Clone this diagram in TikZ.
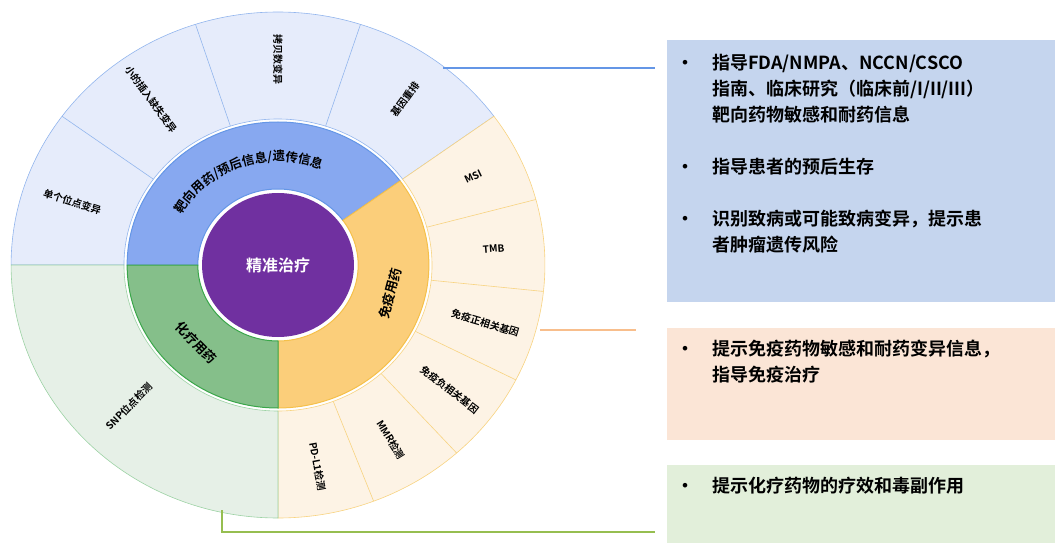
\documentclass[tikz,border=0pt]{standalone}
\usepackage{fontspec}
\setmainfont{Noto Sans CJK SC}[BoldFont={Noto Sans CJK SC Bold}]
\usetikzlibrary{decorations.text}
\definecolor{bluemid}{RGB}{135,168,240}
\definecolor{blueout}{RGB}{230,236,251}
\definecolor{blueline}{RGB}{100,150,230}
\definecolor{orgmid}{RGB}{251,206,122}
\definecolor{orgout}{RGB}{253,243,229}
\definecolor{orgline}{RGB}{245,192,74}
\definecolor{grnmid}{RGB}{133,191,138}
\definecolor{grnout}{RGB}{230,240,231}
\definecolor{grnline}{RGB}{58,166,74}
\definecolor{purp}{RGB}{112,48,160}
\definecolor{boxblue}{RGB}{197,213,238}
\definecolor{boxorg}{RGB}{251,229,214}
\definecolor{boxgrn}{RGB}{226,239,218}
\definecolor{linkorg}{RGB}{248,190,140}
\definecolor{linkgrn}{RGB}{150,190,80}
\tikzset{
  seglabel/.style={font=\bfseries\fontsize{10}{11}\selectfont},
  midlabel/.style={font=\bfseries\fontsize{13}{14}\selectfont},
  infobox/.style={draw=none,minimum width=388pt,anchor=north west,inner sep=0pt},
  infotext/.style={anchor=north west,inner sep=0pt,align=left,font=\bfseries\fontsize{18}{26}\selectfont}
}
\newcommand{\ringseg}[5]{% style, a1, a2, r1, r2
  \filldraw[#1] (#2:#4) -- (#2:#5) arc[start angle=#2,end angle=#3,radius=#5]
    -- (#3:#4) arc[start angle=#3,end angle=#2,radius=#4] -- cycle;}

\begin{document}
\begin{tikzpicture}[x=1pt,y=1pt]
  \useasboundingbox (0,0) rectangle (1061,550);
  \begin{scope}[shift={(278,285)},xscale=1.055]
    % outer ring
    \ringseg{fill=blueout,draw=blueline!70,line width=0.6pt}{180}{36}{146}{253}
    \ringseg{fill=orgout,draw=orgline!70,line width=0.6pt}{36}{-90}{146}{253}
    \ringseg{fill=grnout,draw=grnline!50,line width=0.6pt}{-90}{-180}{146}{253}
    \foreach \a in {144,108,72}
      \draw[blueline!70,line width=0.6pt] (\a:146) -- (\a:253);
    \foreach \a in {15,-6,-27,-48,-69}
      \draw[orgline!70,line width=0.6pt] (\a:146) -- (\a:253);
    % middle ring
    \ringseg{fill=bluemid,draw=blueline,line width=1pt}{180}{36}{76}{143}
    \ringseg{fill=orgmid,draw=orgline,line width=1pt}{36}{-90}{76}{143}
    \ringseg{fill=grnmid,draw=grnline,line width=1pt}{-90}{-180}{76}{143}
    % centre
    \fill[purp] (0,0) circle[radius=72];
    \node[font=\bfseries\fontsize{16}{17}\selectfont,text=white] (core) at (0,0) {精准治疗};
    % middle labels
    \path[decorate,decoration={text along path,text align=center,
      text format delimiters={|}{|},
      text={|\bfseries\fontsize{12.5}{13}\selectfont|靶向用药/预后信息/遗传信息}}]
      (158:104) arc[start angle=158,end angle=60,radius=104];
    \node[midlabel,rotate=75] (immu) at (-15:110) {免疫用药};
    \node[midlabel,rotate=-45] (chemo) at (-135:110) {化疗用药};
    % outer labels
    \foreach \a/\txt in {162/单个位点变异,126/小的插入缺失变异,90/拷贝数变异}
      \node[seglabel,rotate=\a-180] at (\a:205) {\txt};
    \foreach \a/\txt in {54/基因重排,25.5/MSI,4.5/TMB,-16.5/免疫正相关基因,
      -37.5/免疫负相关基因,-58.5/MMR检测,-79.5/PD-L1检测}
      \node[seglabel,rotate=\a] at (\a:205) {\txt};
    \node[seglabel,rotate=45] (snp) at (-135:200) {SNP位点检测};
  \end{scope}
  % boxes
  \node[infobox,fill=boxblue,minimum height=262pt] (bluebox) at (667,510) {};
  \node[infobox,fill=boxorg,minimum height=112pt] (orgbox) at (667,222) {};
  \node[infobox,fill=boxgrn,minimum height=78pt] (grnbox) at (667,85) {};
  \node[infotext] (bluetxt) at (676,499) {%
    \begin{tabular}{@{}p{36pt}@{}l@{}}
    • & 指导FDA/NMPA、NCCN/CSCO\\
      & 指南、临床研究（临床前/I/II/III）\\
      & 靶向药物敏感和耐药信息\\[26pt]
    • & 指导患者的预后生存\\[26pt]
    • & 识别致病或可能致病变异，提示患\\
      & 者肿瘤遗传风险
    \end{tabular}};
  \node[infotext] (orgtxt) at (676,213) {%
    \begin{tabular}{@{}p{36pt}@{}l@{}}
    • & 提示免疫药物敏感和耐药变异信息，\\
      & 指导免疫治疗
    \end{tabular}};
  \node[infotext] (grntxt) at (676,76) {%
    \begin{tabular}{@{}p{36pt}@{}l@{}}
    • & 提示化疗药物的疗效和毒副作用
    \end{tabular}};
  % connectors
  \coordinate (bluestart) at (443,482);
  \coordinate (blueend) at (655,482);
  \coordinate (orgstart) at (540,220);
  \coordinate (orgend) at (636,220);
  \coordinate (grnstart) at (222,40);
  \coordinate (grnend) at (655,18);
  \draw[blueline,line width=1.5pt] (bluestart) -- (blueend);
  \draw[linkorg,line width=1.5pt] (orgstart) -- (orgend);
  \draw[linkgrn,line width=1.5pt] (grnstart) |- (grnend);
\end{tikzpicture}
\end{document}
